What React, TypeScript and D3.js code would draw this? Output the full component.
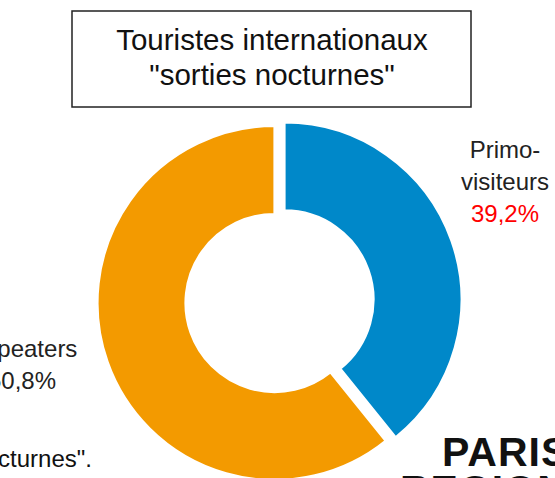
import React from "react";
import * as d3 from "d3";

const categories = ["Primo-visiteurs", "Repeaters"];
const values = [39.2, 60.8];
const labelLines = [["Primo-", "visiteurs"], ["Repeaters"]];
const pctLabels = ["39,2%", "60,8%"];
const titleLines = ["Touristes internationaux", "\"sorties nocturnes\""];
const footnote = "Base : touristes internationaux ayant pratiqué des \"sorties nocturnes\".";

const W = 555;
const H = 478;
const colors = ["#0088C9", "#F39A00"];
const pctColors = ["#FF0000", "#222222"];
const FONT = "'Liberation Sans', Arial, sans-serif";

export default function App() {
  const cx = 274.5;
  const cy = 303;
  const outerR = 177;
  const innerR = 89;
  const explode = 10.6;

  const pie = d3
    .pie<number>()
    .sort(null)
    .value((d) => d)
    .startAngle(0)
    .endAngle(2 * Math.PI);
  const arcs = pie(values);
  const arc = d3.arc<d3.PieArcDatum<number>>().innerRadius(innerR).outerRadius(outerR);

  const labelPos = [
    { x: 505, y: 158 },
    { x: 22, y: 357 },
  ];
  const lh = 32;

  return (
    <svg
      width={W}
      height={H}
      style={{ position: "fixed", left: 0, top: 0, background: "#fff" }}
      fontFamily={FONT}
    >
      <rect x={72} y={11} width={399} height={96} fill="#fff" stroke="#222" strokeWidth={1.5} />
      {titleLines.map((t, i) => (
        <text key={t} x={272} y={50 + i * 35} textAnchor="middle" fontSize={29.5} fill="#111">
          {t}
        </text>
      ))}
      <g transform={`translate(${cx},${cy})`}>
        {arcs.map((a, i) => {
          const mid = (a.startAngle + a.endAngle) / 2;
          const off = i === 0 ? explode : 0;
          const dx = Math.sin(mid) * off;
          const dy = -Math.cos(mid) * off;
          return (
            <path
              key={categories[i]}
              d={arc(a) || ""}
              transform={`translate(${dx},${dy})`}
              fill={colors[i]}
              stroke="#fff"
              strokeWidth={2.2}
            />
          );
        })}
      </g>
      {labelPos.map((p, i) => (
        <text key={categories[i]} x={p.x} textAnchor="middle" fontSize={24} fill="#222">
          {labelLines[i].map((l, j) => (
            <tspan key={l} x={p.x} y={p.y + j * lh}>
              {l}
            </tspan>
          ))}
          <tspan x={p.x} y={p.y + labelLines[i].length * lh} fill={pctColors[i]}>
            {pctLabels[i]}
          </tspan>
        </text>
      ))}
      <text x={92} y={467} textAnchor="end" fontSize={24} fill="#111">
        {footnote}
      </text>
      <text x={442} y={466} fontSize={41} fontWeight="bold" fill="#111" letterSpacing={1}>
        PARIS
      </text>
      <text x={400} y={504} fontSize={41} fontWeight="bold" fill="#111" letterSpacing={1}>
        REGION
      </text>
    </svg>
  );
}
